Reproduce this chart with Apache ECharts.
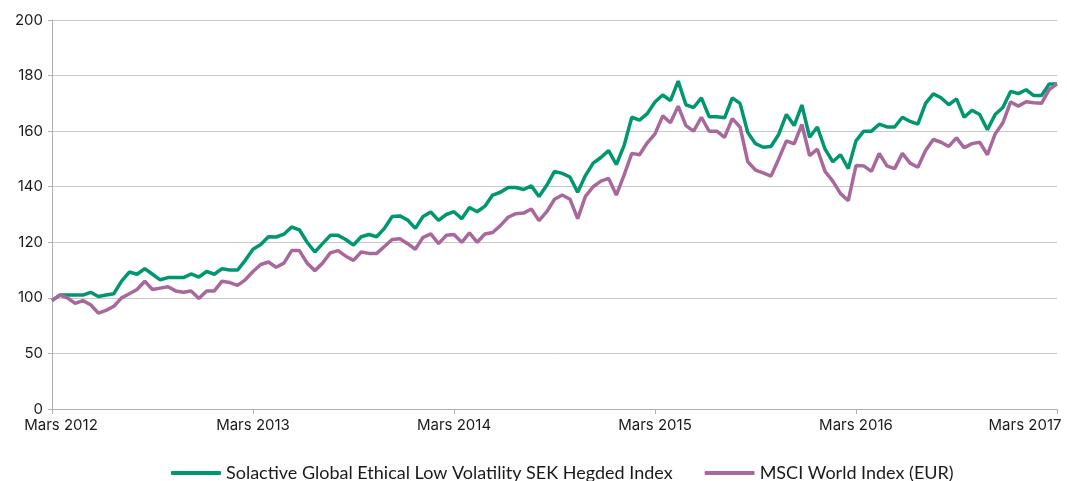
<!DOCTYPE html>
<html>
<head>
<meta charset="utf-8">
<script src="https://cdn.jsdelivr.net/npm/echarts@6/dist/echarts.min.js"></script>
<style>
  html, body { margin: 0; padding: 0; background: #fff; }
  #chart { width: 1067px; height: 481px; }
</style>
</head>
<body>
<div id="chart"></div>
<script>
// tick labels, one every 26 steps (two weeks per step)
const yearLabels = ['Mars 2012', 'Mars 2013', 'Mars 2014', 'Mars 2015', 'Mars 2016', 'Mars 2017']
const stepsPerYear = 26

const seriesNames = ['Solactive Global Ethical Low Volatility SEK Hegded Index', 'MSCI World Index (EUR)']

const solactive = [
  99, 101, 101, 101, 101, 102, 100.5, 101, 101.5, 106,
  109.3, 108.5, 110.5, 108.5, 106.5, 107.3, 107.3, 107.3, 108.6, 107.5,
  109.5, 108.5, 110.5, 110, 110, 113.5, 117.5, 119.2, 122, 121.9,
  122.9, 125.5, 124.5, 120, 116.5, 119.5, 122.5, 122.5, 121, 119,
  122, 122.8, 122, 125, 129.3, 129.5, 128, 125, 129.3, 130.9,
  127.9, 130, 131, 128.5, 132.5, 131, 133, 137, 138, 139.7,
  139.7, 139, 140.3, 136.5, 140.5, 145.5, 144.8, 143.5, 138, 144,
  148.5, 150.5, 153, 148, 154.8, 165, 164, 166.3, 170.5, 173,
  171, 178, 169.5, 168.5, 172, 165.2, 165.2, 164.8, 172, 170,
  159.5, 155.5, 154.2, 154.5, 158.8, 166, 162, 169.4, 157.8, 161.5,
  153.5, 149, 151.5, 146.5, 156.5, 160, 160, 162.5, 161.5, 161.5,
  165, 163.5, 162.5, 170, 173.4, 172, 169.5, 171.6, 165, 167.5,
  166, 160.5, 166, 168.5, 174.3, 173.5, 174.9, 172.8, 172.8, 177,
  177
]

const msciWorld = [
  99, 101, 100, 98, 99, 97.5, 94.5, 95.5, 97, 100,
  101.5, 103, 106, 103, 103.5, 104, 102.5, 102, 102.5, 99.8,
  102.5, 102.5, 106, 105.5, 104.5, 106.5, 109.5, 112, 112.9, 111,
  112.5, 117, 117, 112.5, 109.8, 112.5, 116.2, 117, 115, 113.5,
  116.5, 116, 116, 118.5, 121, 121.3, 119.5, 117.5, 121.8, 123,
  119.5, 122.5, 122.8, 120, 123.4, 120, 123, 123.5, 126, 129,
  130.3, 130.5, 132, 127.8, 131, 135.5, 137, 135.5, 128.5, 136.5,
  140, 142, 143, 137, 144.2, 152, 151.5, 155.8, 159, 165.5,
  163, 169, 162, 160, 165, 160, 160, 157.8, 164.5, 161.5,
  149, 146, 145, 143.8, 150, 156.5, 155.4, 162.4, 151.2, 153.5,
  145.5, 142, 137.5, 135, 147.6, 147.5, 145.5, 152, 147.5, 146.5,
  152, 148.5, 147, 153, 157, 156, 154.5, 157.6, 154, 155.5,
  156, 151.5, 159, 163, 170.5, 169, 170.6, 170.2, 170, 175,
  177
]

// the y axis is cut below 100: gridline 80 is labelled 50, gridline 60 is labelled 0
const yLabelMap = { 60: '0', 80: '50' }

const green = '#00966f'
const purple = '#a8689d'
const axisFont = 'Inter, "Noto Sans", sans-serif'

const chart = echarts.init(document.getElementById('chart'))

const lastStep = stepsPerYear * (yearLabels.length - 1)

chart.setOption({
  animation: false,
  grid: { left: 52, right: 10, top: 20, bottom: 72 },
  xAxis: {
    type: 'value',
    min: 0,
    max: lastStep,
    interval: stepsPerYear,
    axisLine: { show: true, lineStyle: { color: '#b0b0b0', width: 1 } },
    axisTick: { show: true, length: 5, lineStyle: { color: '#b0b0b0' } },
    splitLine: { show: false },
    axisLabel: {
      margin: 9,
      color: '#1a1a1a',
      fontFamily: axisFont,
      fontSize: 15,
      formatter: v => {
        const label = yearLabels[v / stepsPerYear]
        if (v === 0) return '{first|' + label + '}'
        if (v === lastStep) return '{last|' + label + '}'
        return label
      },
      rich: {
        first: { fontFamily: axisFont, fontSize: 15, color: '#1a1a1a', padding: [0, 0, 0, 18] },
        last: { fontFamily: axisFont, fontSize: 15, color: '#1a1a1a', padding: [0, 64, 0, 0] },
      },
    },
  },
  yAxis: {
    type: 'value',
    min: 60,
    max: 200,
    interval: 20,
    axisLine: { show: true, lineStyle: { color: '#b0b0b0', width: 1 } },
    axisTick: { show: true, length: 4, lineStyle: { color: '#b0b0b0' } },
    splitLine: { lineStyle: { color: '#c8c8c8', width: 1 } },
    axisLabel: {
      margin: 9,
      color: '#1a1a1a',
      fontFamily: axisFont,
      fontSize: 15,
      formatter: v => yLabelMap[v] || String(v),
    },
  },
  legend: {
    left: 166,
    top: 459,
    icon: 'roundRect',
    itemWidth: 50,
    itemHeight: 4,
    itemGap: 32,
    textStyle: {
      fontFamily: 'Lato, "Open Sans", sans-serif',
      fontSize: 18,
      color: '#1a1a1a',
    },
    data: seriesNames,
  },
  series: [
    {
      name: seriesNames[0],
      type: 'line',
      data: solactive.map((v, i) => [i, v]),
      showSymbol: false,
      color: green,
      lineStyle: { width: 3.5, color: green },
    },
    {
      name: seriesNames[1],
      type: 'line',
      data: msciWorld.map((v, i) => [i, v]),
      showSymbol: false,
      color: purple,
      lineStyle: { width: 3.5, color: purple },
    },
  ],
})
</script>
</body>
</html>
